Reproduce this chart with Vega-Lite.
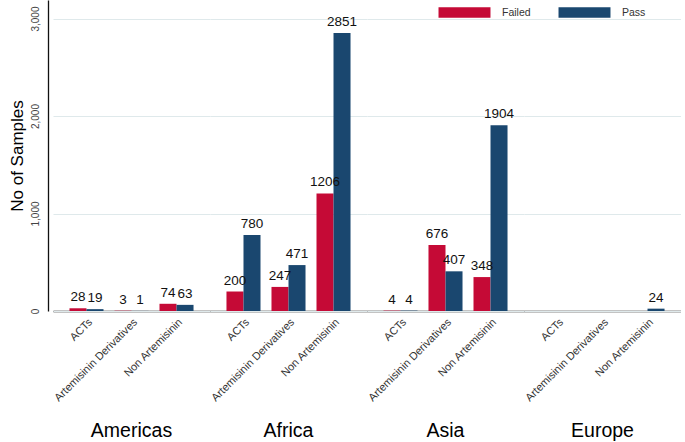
{
  "$schema": "https://vega.github.io/schema/vega-lite/v6.json",
  "background": "white",
  "padding": {"left": 8, "top": 0, "right": 0, "bottom": 0},
  "bounds": "flush",
  "data": {"values": [
    {"region": "Americas", "category": "ACTs", "status": "Failed", "value": 28},
    {"region": "Americas", "category": "ACTs", "status": "Pass", "value": 19},
    {"region": "Americas", "category": "Artemisinin Derivatives", "status": "Failed", "value": 3},
    {"region": "Americas", "category": "Artemisinin Derivatives", "status": "Pass", "value": 1},
    {"region": "Americas", "category": "Non Artemisinin", "status": "Failed", "value": 74},
    {"region": "Americas", "category": "Non Artemisinin", "status": "Pass", "value": 63},
    {"region": "Africa", "category": "ACTs", "status": "Failed", "value": 200},
    {"region": "Africa", "category": "ACTs", "status": "Pass", "value": 780},
    {"region": "Africa", "category": "Artemisinin Derivatives", "status": "Failed", "value": 247},
    {"region": "Africa", "category": "Artemisinin Derivatives", "status": "Pass", "value": 471},
    {"region": "Africa", "category": "Non Artemisinin", "status": "Failed", "value": 1206},
    {"region": "Africa", "category": "Non Artemisinin", "status": "Pass", "value": 2851},
    {"region": "Asia", "category": "ACTs", "status": "Failed", "value": 4},
    {"region": "Asia", "category": "ACTs", "status": "Pass", "value": 4},
    {"region": "Asia", "category": "Artemisinin Derivatives", "status": "Failed", "value": 676},
    {"region": "Asia", "category": "Artemisinin Derivatives", "status": "Pass", "value": 407},
    {"region": "Asia", "category": "Non Artemisinin", "status": "Failed", "value": 348},
    {"region": "Asia", "category": "Non Artemisinin", "status": "Pass", "value": 1904},
    {"region": "Europe", "category": "Non Artemisinin", "status": "Pass", "value": 24}
  ]},
  "facet": {
    "column": {
      "field": "region", "type": "nominal",
      "sort": ["Americas", "Africa", "Asia", "Europe"],
      "title": null,
      "header": {
        "labelOrient": "bottom", "labelFontSize": 19.5, "labelFont": "Liberation Sans", "labelColor": "black", "labelPadding": 19
      }
    }
  },
  "spacing": 0,
  "spec": {
    "width": 157,
    "height": 311,
    "encoding": {
      "x": {
        "field": "category", "type": "nominal",
        "sort": ["ACTs", "Artemisinin Derivatives", "Non Artemisinin"],
        "scale": {"paddingInner": 0.244, "paddingOuter": 0.366},
        "axis": {"title": null, "labelAngle": -45, "labelFontSize": 11, "labelFont": "Liberation Sans", "labelColor": "#333", "ticks": false, "labelPadding": 5, "domain": true, "domainColor": "#111", "domainWidth": 1.3, "grid": false}
      },
      "xOffset": {"field": "status", "type": "nominal", "sort": ["Failed", "Pass"]},
      "y": {
        "field": "value", "type": "quantitative",
        "scale": {"domain": [0, 3190], "nice": false},
        "axis": {
          "title": "No of Samples", "titleFontSize": 17, "titleFont": "Liberation Sans", "titleFontWeight": "normal", "titleColor": "black", "titlePadding": 4,
          "values": [0, 1000, 2000, 3000], "format": ",.0f",
          "labelAngle": -90, "labelAlign": "center", "labelBaseline": "bottom", "labelFontSize": 10, "labelFont": "Liberation Sans", "labelColor": "#444", "labelPadding": 8,
          "ticks": false, "offset": 5, "domainColor": "#111", "domainWidth": 1.3,
          "grid": true, "gridColor": "#dfe9eb", "gridWidth": 1
        }
      }
    },
    "layer": [
      {
        "mark": {"type": "bar"},
        "encoding": {
          "color": {
            "field": "status", "type": "nominal",
            "scale": {"domain": ["Failed", "Pass"], "range": ["#c50a36", "#1a476f"]},
            "legend": {
              "title": null, "orient": "none", "direction": "horizontal",
              "legendX": 401, "legendY": 2,
              "symbolType": "M-2.5,-0.5H2.5V0.5H-2.5Z", "symbolSize": 432, "symbolStrokeWidth": 0,
              "labelFontSize": 10.5, "labelFont": "Liberation Sans", "labelColor": "#333", "labelOffset": 27,
              "columnPadding": 27, "fillColor": "white", "padding": 0
            }
          }
        }
      },
      {
        "mark": {"type": "text", "baseline": "alphabetic", "dy": -7, "fontSize": 13.5, "font": "Liberation Sans", "color": "#111"},
        "encoding": {"text": {"field": "value", "type": "quantitative"}}
      }
    ]
  },
  "config": {"view": {"stroke": null}}
}
